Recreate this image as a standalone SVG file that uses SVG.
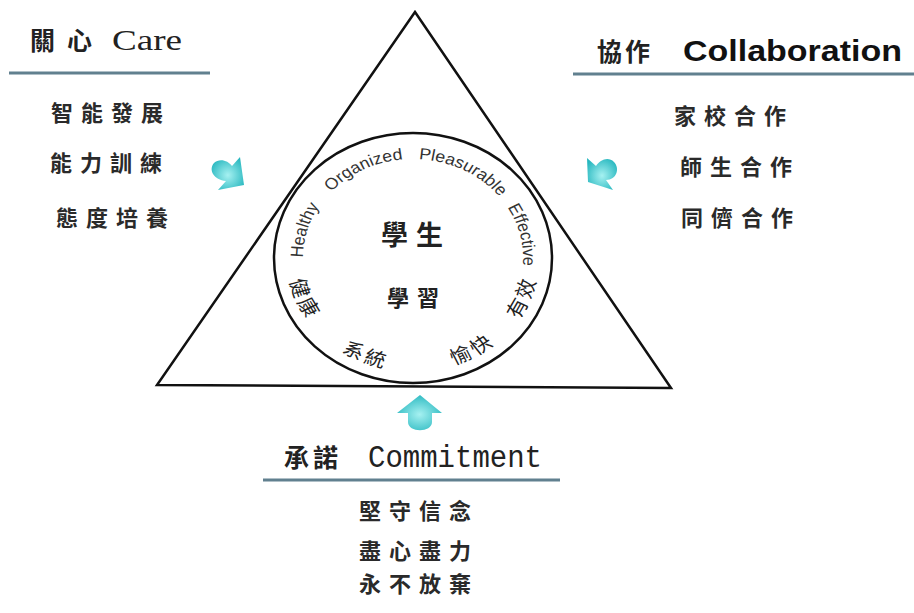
<svg xmlns="http://www.w3.org/2000/svg" xmlns:xlink="http://www.w3.org/1999/xlink" width="914" height="613" viewBox="0 0 914 613">
<style>
.cjk{font-family:"Noto Sans CJK TC","Noto Sans CJK SC",sans-serif;fill:#222}
.item{font-size:22px;letter-spacing:8px;font-weight:bold;fill:#2a2a2a}
.arc{font-family:"Liberation Sans",Arial,sans-serif;font-size:16px;fill:#333}
.uline{stroke:#61808f;stroke-width:3;fill:none}
.shape{fill:none;stroke:#111;stroke-width:2.5}
.arrow{fill:url(#cyan)}
</style>
<defs>
<radialGradient id="cyan" cx="0.5" cy="0.55" r="0.6">
<stop offset="0" stop-color="#a6f1f1"/>
<stop offset="1" stop-color="#27b7bf"/>
</radialGradient>
<path id="topArc" d="M -93.03 33.86 A 99 99 0 1 1 93.03 33.86"/>
<path id="botArc" d="M -113 0 A 113 113 0 0 0 113 0"/>
</defs>
<rect width="914" height="613" fill="#fff"/>

<g id="triangle">
<polygon class="shape" points="415,12 157,385 671,388" stroke-linejoin="miter"/>
</g>

<g id="student-circle">
<ellipse class="shape" cx="413" cy="258" rx="139" ry="125"/>
<g transform="translate(413,258) scale(1.112,1)">
<text class="arc" font-size="16.5"><textPath href="#topArc" xlink:href="#topArc" startOffset="35">Healthy</textPath></text>
<text class="arc"><textPath href="#topArc" xlink:href="#topArc" startOffset="107">Organized</textPath></text>
<text class="arc" font-size="15.5"><textPath href="#topArc" xlink:href="#topArc" startOffset="195">Pleasurable</textPath></text>
<text class="arc" font-size="16.5"><textPath href="#topArc" xlink:href="#topArc" startOffset="292">Effective</textPath></text>
<text class="cjk" font-size="19" letter-spacing="3" text-anchor="middle"><textPath href="#botArc" xlink:href="#botArc" startOffset="45">健康</textPath></text>
<text class="cjk" font-size="19" letter-spacing="3" text-anchor="middle"><textPath href="#botArc" xlink:href="#botArc" startOffset="131">系統</textPath></text>
<text class="cjk" font-size="19" letter-spacing="3" text-anchor="middle"><textPath href="#botArc" xlink:href="#botArc" startOffset="237">愉快</textPath></text>
<text class="cjk" font-size="19" letter-spacing="3" text-anchor="middle"><textPath href="#botArc" xlink:href="#botArc" startOffset="312">有效</textPath></text>
</g>
<text class="cjk" x="381" y="245" font-size="27" font-weight="bold" letter-spacing="8">學生</text>
<text class="cjk" x="387" y="306" font-size="22" font-weight="bold" letter-spacing="8">學習</text>
</g>

<g id="care">
<text y="50"><tspan class="cjk" x="30" font-size="25" font-weight="bold" letter-spacing="12">關心</tspan><tspan x="112" font-family="Liberation Serif,serif" font-size="30" fill="#222" textLength="70" lengthAdjust="spacingAndGlyphs">Care</tspan></text>
<line class="uline" x1="9" y1="73" x2="210" y2="73"/>
<text class="cjk item" x="51" y="120.5">智能發展</text>
<text class="cjk item" x="50" y="170.5">能力訓練</text>
<text class="cjk item" x="56" y="226">態度培養</text>
</g>

<g id="collaboration">
<text y="60.5"><tspan class="cjk" x="597" font-size="25" font-weight="bold" letter-spacing="3">協作</tspan><tspan x="683" font-family="Liberation Sans,Arial,sans-serif" font-weight="bold" font-size="29" fill="#111" textLength="219" lengthAdjust="spacingAndGlyphs">Collaboration</tspan></text>
<line class="uline" x1="573" y1="74" x2="914" y2="74"/>
<text class="cjk item" x="674" y="123.5">家校合作</text>
<text class="cjk item" x="680" y="174.5">師生合作</text>
<text class="cjk item" x="681" y="226">同儕合作</text>
</g>

<g id="commitment">
<text y="467"><tspan class="cjk" x="284" font-size="25" font-weight="bold" letter-spacing="4">承諾</tspan><tspan x="368" font-family="Liberation Mono,monospace" font-size="31" fill="#222" textLength="174" lengthAdjust="spacingAndGlyphs">Commitment</tspan></text>
<line class="uline" x1="263" y1="480" x2="560" y2="480"/>
<text class="cjk item" x="359" y="519">堅守信念</text>
<text class="cjk item" x="359" y="559">盡心盡力</text>
<text class="cjk item" x="359" y="592">永不放棄</text>
</g>

<g id="connectors">
<path class="arrow" d="M 240 157 L 244 185 L 218 190 L 226 181 C 214 180 208 170 214 163 C 219 158 228 160 232 166 Z"/>
<path class="arrow" d="M 587 158 L 588 182 L 613 190 L 606 180 C 617 180 620 168 614 162 C 608 156 600 160 596 166 Z"/>
<path class="arrow" d="M 420 395 L 442 413 L 432 413 L 432 422 C 432 433 408 433 408 422 L 408 413 L 397 413 Z"/>
</g>
</svg>
